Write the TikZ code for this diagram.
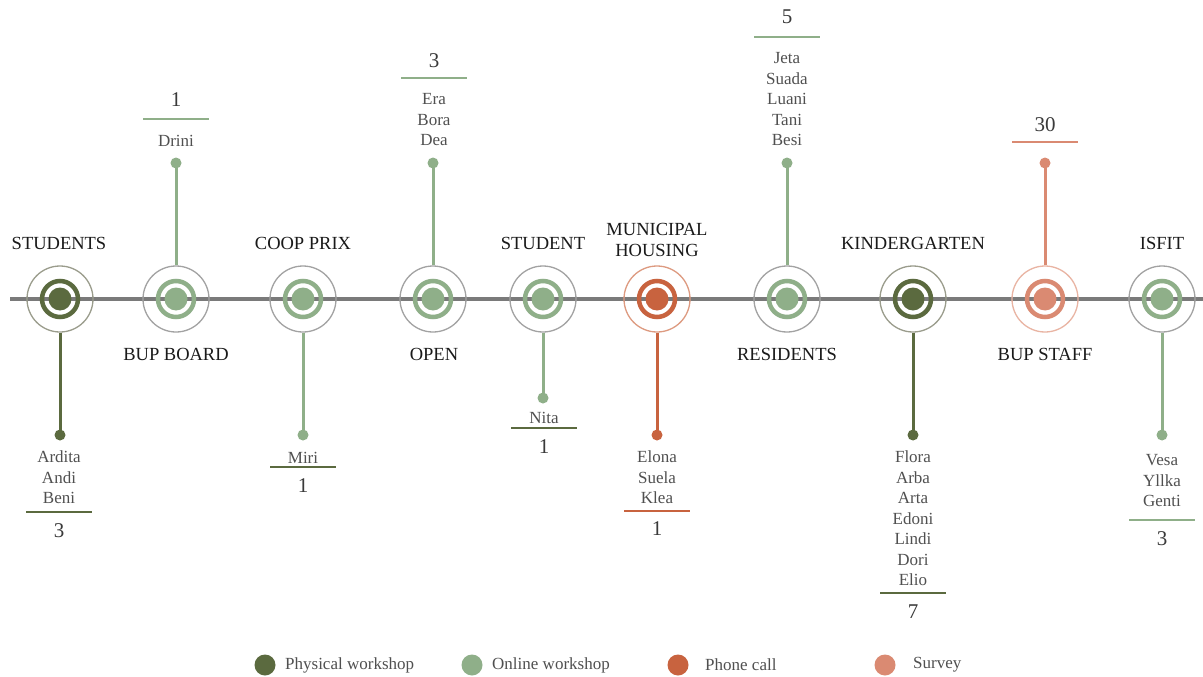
\documentclass[tikz,border=0pt]{standalone}
\usepackage{fontspec}
\setmainfont{Liberation Serif}
\definecolor{olive}{HTML}{5B6A3F}
\definecolor{olivering}{HTML}{9A9C8C}
\definecolor{leaf}{HTML}{8FAF89}
\definecolor{leafring}{HTML}{A2A2A2}
\definecolor{rust}{HTML}{C8633F}
\definecolor{rustring}{HTML}{DD9A80}
\definecolor{salmon}{HTML}{DA8A72}
\definecolor{salmonring}{HTML}{E9B4A3}
\definecolor{axisgray}{HTML}{7A7A7A}
\definecolor{labelink}{HTML}{1A1A1A}
\definecolor{nameink}{HTML}{505050}
\definecolor{countink}{HTML}{3A3A3A}
\tikzset{
  outerring/.style={circle, draw=#1, line width=1.3pt, minimum size=66pt, inner sep=0pt},
  innerring/.style={circle, draw=#1, line width=4.5pt, minimum size=36pt, inner sep=0pt},
  hubdot/.style={circle, fill=#1, minimum size=23pt, inner sep=0pt},
  enddot/.style={circle, fill=#1, minimum size=11pt, inner sep=0pt},
  stem/.style={draw=#1, line width=3pt},
  tally/.style={draw=#1, line width=1.5pt},
  toplabel/.style={font=\fontsize{18.5}{21}\selectfont, text=labelink, align=center, inner sep=0pt},
  namelist/.style={font=\fontsize{17}{20.5}\selectfont, text=nameink, align=center, inner sep=0pt},
  count/.style={font=\fontsize{21}{22}\selectfont, text=countink, inner sep=0pt},
  legdot/.style={circle, fill=#1, minimum size=21pt, inner sep=0pt},
  legtext/.style={font=\fontsize{17}{19}\selectfont, text=nameink, anchor=west, inner sep=0pt},
}
% hub: name, x position, main colour, ring colour
\newcommand{\hubat}[4]{%
  \node[outerring=#4] (#1) at (#2,299) {};
  \node[innerring=#3] (#1-ring) at (#2,299) {};
  \node[hubdot=#3] (#1-dot) at (#2,299) {};}
% tally rule centred at x, y
\newcommand{\tallyrule}[3]{\draw[tally=#3] (#1,#2) ++(-33,0) -- ++(66,0);}
\begin{document}
\begin{tikzpicture}[x=1pt,y=-1pt]
\useasboundingbox (0,0) rectangle (1203,677);
\fill[white] (0,0) rectangle (1203,677);

% timeline axis
\coordinate (axisstart) at (10,299);
\coordinate (axisend) at (1203,299);
\draw[axisgray, line width=4pt] (axisstart) -- (axisend);

% hubs
\hubat{students}{60}{olive}{olivering}
\hubat{bupboard}{176}{leaf}{leafring}
\hubat{coop}{303}{leaf}{leafring}
\hubat{open}{433}{leaf}{leafring}
\hubat{student}{543}{leaf}{leafring}
\hubat{municipal}{657}{rust}{rustring}
\hubat{residents}{787}{leaf}{leafring}
\hubat{kinder}{913}{olive}{olivering}
\hubat{bupstaff}{1045}{salmon}{salmonring}
\hubat{isfit}{1162}{leaf}{leafring}

% hub labels
\node[toplabel] (l-students) at (59,243) {STUDENTS};
\node[toplabel] (l-bupboard) at (176,354) {BUP BOARD};
\node[toplabel] (l-coop) at (303,243) {COOP PRIX};
\node[toplabel] (l-open) at (434,354) {OPEN};
\node[toplabel] (l-student) at (543,243) {STUDENT};
\node[toplabel] (l-municipal) at (657,240) {MUNICIPAL\\HOUSING};
\node[toplabel] (l-residents) at (787,354) {RESIDENTS};
\node[toplabel] (l-kinder) at (913,243) {KINDERGARTEN};
\node[toplabel] (l-bupstaff) at (1045,354) {BUP STAFF};
\node[toplabel] (l-isfit) at (1162,243) {ISFIT};

% STUDENTS
\node[enddot=olive] (e-students) at (60,435) {};
\draw[stem=olive] (students.south) -- (e-students.center);
\node[namelist] (n-students) at (59,477.5) {Ardita\\Andi\\Beni};
\tallyrule{59}{512}{olive}
\node[count] (c-students) at (59,531) {3};

% BUP BOARD
\node[enddot=leaf] (e-bupboard) at (176,163) {};
\draw[stem=leaf] (bupboard.north) -- (e-bupboard.center);
\node[namelist] (n-bupboard) at (176,141) {Drini};
\tallyrule{176}{119}{leaf}
\node[count] (c-bupboard) at (176,100) {1};

% COOP PRIX
\node[enddot=leaf] (e-coop) at (303,435) {};
\draw[stem=leaf] (coop.south) -- (e-coop.center);
\node[namelist] (n-coop) at (303,458) {Miri};
\tallyrule{303}{467}{olive}
\node[count] (c-coop) at (303,486) {1};

% OPEN
\node[enddot=leaf] (e-open) at (433,163) {};
\draw[stem=leaf] (open.north) -- (e-open.center);
\node[namelist] (n-open) at (434,120) {Era\\Bora\\Dea};
\tallyrule{434}{78}{leaf}
\node[count] (c-open) at (434,61) {3};

% STUDENT
\node[enddot=leaf] (e-student) at (543,398) {};
\draw[stem=leaf] (student.south) -- (e-student.center);
\node[namelist] (n-student) at (544,418) {Nita};
\tallyrule{544}{428}{olive}
\node[count] (c-student) at (544,447) {1};

% MUNICIPAL HOUSING
\node[enddot=rust] (e-municipal) at (657,435) {};
\draw[stem=rust] (municipal.south) -- (e-municipal.center);
\node[namelist] (n-municipal) at (657,477.5) {Elona\\Suela\\Klea};
\tallyrule{657}{511}{rust}
\node[count] (c-municipal) at (657,529) {1};

% RESIDENTS
\node[enddot=leaf] (e-residents) at (787,163) {};
\draw[stem=leaf] (residents.north) -- (e-residents.center);
\node[namelist] (n-residents) at (787,99.5) {Jeta\\Suada\\Luani\\Tani\\Besi};
\tallyrule{787}{37}{leaf}
\node[count] (c-residents) at (787,17) {5};

% KINDERGARTEN
\node[enddot=olive] (e-kinder) at (913,435) {};
\draw[stem=olive] (kinder.south) -- (e-kinder.center);
\node[namelist] (n-kinder) at (913,518.5) {Flora\\Arba\\Arta\\Edoni\\Lindi\\Dori\\Elio};
\tallyrule{913}{593}{olive}
\node[count] (c-kinder) at (913,612) {7};

% BUP STAFF
\node[enddot=salmon] (e-bupstaff) at (1045,163) {};
\draw[stem=salmon] (bupstaff.north) -- (e-bupstaff.center);
\tallyrule{1045}{142}{salmon}
\node[count] (c-bupstaff) at (1045,125) {30};

% ISFIT
\node[enddot=leaf] (e-isfit) at (1162,435) {};
\draw[stem=leaf] (isfit.south) -- (e-isfit.center);
\node[namelist] (n-isfit) at (1162,481) {Vesa\\Yllka\\Genti};
\tallyrule{1162}{520}{leaf}
\node[count] (c-isfit) at (1162,539) {3};

% legend
\node[legdot=olive] (k-phys) at (265,665) {};
\node[legtext] (t-phys) at (285,665) {Physical workshop};
\node[legdot=leaf] (k-online) at (472,665) {};
\node[legtext] (t-online) at (492,665) {Online workshop};
\node[legdot=rust] (k-phone) at (678,665) {};
\node[legtext] (t-phone) at (705,665) {Phone call};
\node[legdot=salmon] (k-survey) at (885,665) {};
\node[legtext] (t-survey) at (913,665) {Survey};
\end{tikzpicture}
\end{document}
